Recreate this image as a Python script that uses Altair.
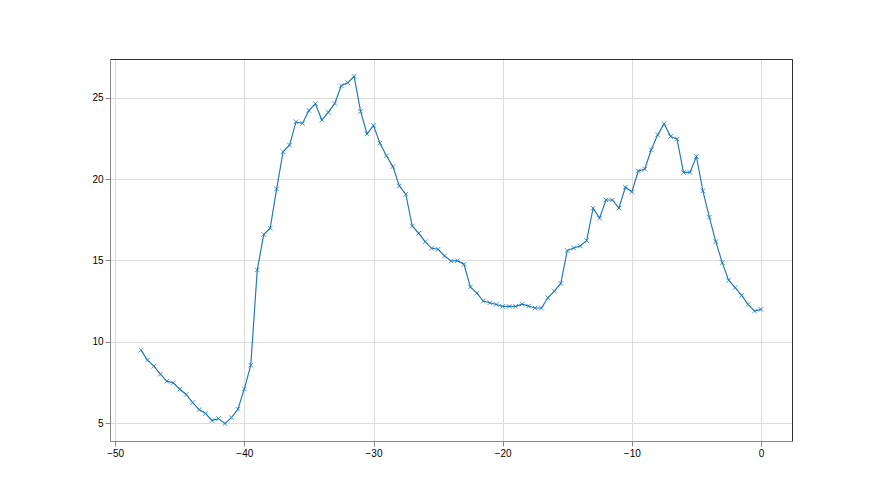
import altair as alt
import pandas as pd

x_values = [-48 + 0.5 * i for i in range(97)]
y_values = [
    9.49, 8.88, 8.51, 8.02, 7.58, 7.48, 7.09, 6.77, 6.27, 5.84,
    5.60, 5.17, 5.29, 4.98, 5.35, 5.86, 7.11, 8.57, 14.42, 16.59,
    16.98, 19.40, 21.68, 22.09, 23.52, 23.42, 24.22, 24.63, 23.63, 24.10,
    24.65, 25.74, 25.92, 26.31, 24.16, 22.78, 23.30, 22.21, 21.43, 20.77,
    19.58, 19.07, 17.12, 16.67, 16.16, 15.75, 15.69, 15.28, 14.97, 14.99,
    14.77, 13.37, 13.00, 12.51, 12.40, 12.30, 12.18, 12.18, 12.18, 12.32,
    12.20, 12.08, 12.08, 12.71, 13.12, 13.59, 15.61, 15.77, 15.89, 16.22,
    18.21, 17.60, 18.72, 18.72, 18.22, 19.50, 19.22, 20.50, 20.61, 21.80,
    22.72, 23.40, 22.62, 22.46, 20.41, 20.41, 21.39, 19.28, 17.66, 16.16,
    14.87, 13.78, 13.33, 12.86, 12.30, 11.89, 12.00,
]
x_ticks = [-50, -40, -30, -20, -10, 0]
y_ticks = [5, 10, 15, 20, 25]

df = pd.DataFrame({"x": x_values, "y": y_values})

blue = "#1f77b4"
x_scale = alt.Scale(domain=[-50.4, 2.4], nice=False, zero=False)
y_scale = alt.Scale(domain=[3.91, 27.38], nice=False, zero=False)

x_enc = alt.X("x:Q", scale=x_scale, axis=alt.Axis(values=x_ticks, title=None))
y_enc = alt.Y("y:Q", scale=y_scale, axis=alt.Axis(values=y_ticks, title=None))

line = alt.Chart(df).mark_line(color=blue, strokeWidth=1.15).encode(x=x_enc, y=y_enc)
pts = alt.Chart(df).mark_point(
    shape="M-1,-1L1,1M-1,1L1,-1",
    filled=False,
    color=blue,
    strokeWidth=0.8,
    size=21,
    opacity=1,
).encode(x=x_enc, y=y_enc)

frame_axis = dict(
    title=None, labels=False, ticks=False, grid=False,
    domain=True, domainColor="#000000", domainWidth=0.8,
)
frame = alt.Chart(df).mark_point(opacity=0).encode(
    x=alt.X("x:Q", scale=x_scale, axis=alt.Axis(orient="top", **frame_axis)),
    y=alt.Y("y:Q", scale=y_scale, axis=alt.Axis(orient="right", **frame_axis)),
)

main = alt.layer(line, pts)

chart = (
    alt.layer(main, frame)
    .resolve_axis(x="independent", y="independent")
    .properties(
        width=682,
        height=382,
        autosize=alt.AutoSizeParams(type="none"),
        padding={"left": 102, "top": 51, "right": 80, "bottom": 46},
    )
    .configure_view(stroke=None)
    .configure_axis(
        grid=True,
        gridColor="#b0b0b0",
        gridWidth=0.8,
        domain=True,
        domainColor="#000000",
        domainWidth=0.8,
        tickColor="#000000",
        tickSize=2.7,
        tickWidth=0.8,
        labelFont="DejaVu Sans",
        labelFontSize=7.6,
        labelColor="#000000",
        labelPadding=2.5,
    )
    .configure(background="white")
)

chart.save("out.html", embed_options={"renderer": "svg", "actions": False})
